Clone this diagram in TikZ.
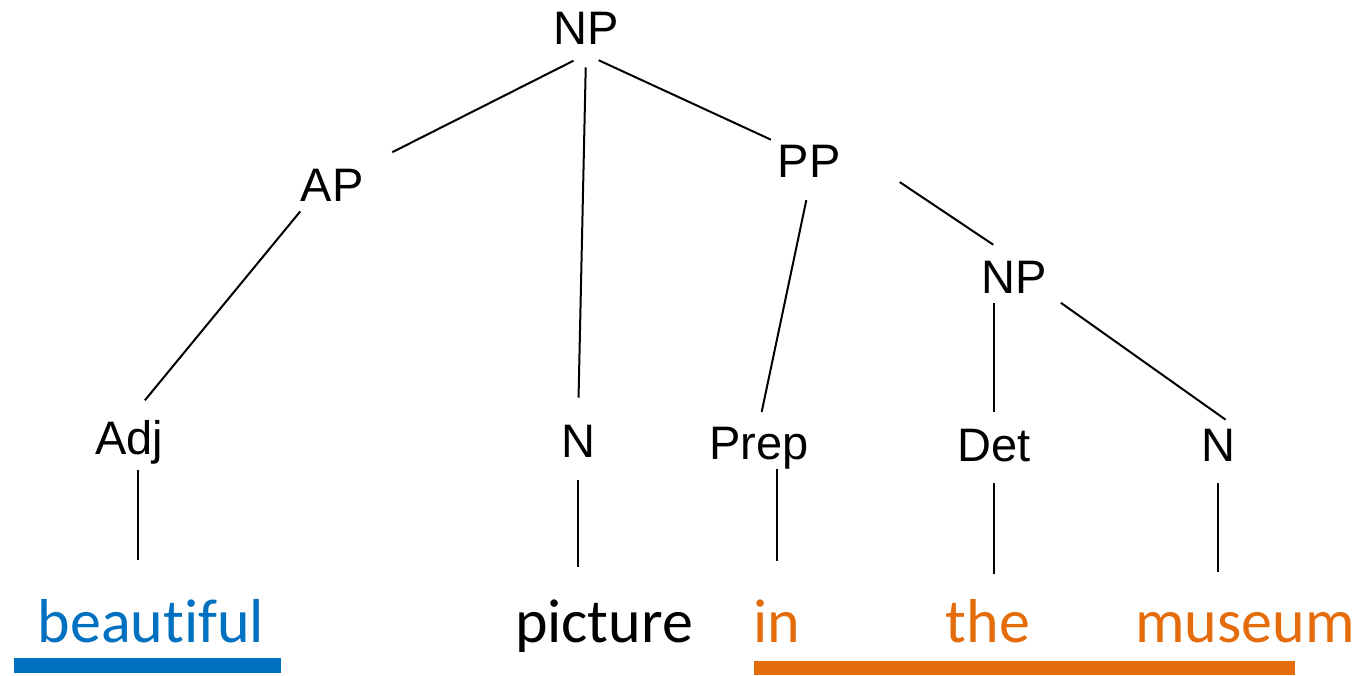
\documentclass[tikz,border=0pt]{standalone}
\usepackage{fontspec}
\usepackage{xcolor}
\usepackage{tikz}
\usetikzlibrary{positioning,calc}
\newfontfamily\treefont{Liberation Sans}
\newfontfamily\wordfont[Ligatures = NoCommon]{Carlito}
\definecolor{wordblue}{RGB}{0,112,192}
\definecolor{wordorange}{RGB}{228,108,10}

\begin{document}
\begin{tikzpicture}[x = 0.5pt, y = -0.5pt,
    tag/.style = {font = \treefont\fontsize{23.5}{28}\selectfont, anchor = base, inner sep = 0pt, text height = 17pt, text depth = 5pt},
    word/.style = {font = \wordfont\fontsize{31}{37}\selectfont, anchor = base, inner sep = 0pt, text height = 21pt, text depth = 0pt},
    branch/.style = {line width = 1pt, shorten < = 6pt, shorten > = 13pt}]
    \useasboundingbox (0,0) rectangle (1364,675);
    \node[tag] (np) at (586,44) {NP};
    \node[tag] (ap) at (332,201) {AP};
    \node[tag] (pp) at (809,177) {PP};
    \node[tag] (np2) at (1014,293) {NP};
    %%%%%%%%%%
    \node[tag] (adj) at (129,454) {Adj};
    \node[tag] (n) at (578,457) {N};
    \node[tag] (prep) at (759,459) {Prep};
    \node[tag] (det) at (994,461) {Det};
    \node[tag] (n2) at (1218,461) {N};
    %%%%%%%%%%
    \node[word, text = wordblue] (beautiful) at (151,642) {beautiful};
    \node[word] (picture) at (604,642) {picture};
    \node[word, text = wordorange] (in) at (777,642) {in};
    \node[word, text = wordorange] (the) at (988,642) {the};
    \node[word, text = wordorange] (museum) at (1245,642) {museum};
    %%%%%%%%%%
    \fill[wordblue] (14,658) rectangle (281,673);
    \fill[wordorange] (754,661) rectangle (1295,675);
    %%%%%%%%%%
    \draw[branch, shorten < = 7pt, shorten > = 16pt] (np.south) -- (ap.north east);
    \draw[branch, shorten < = 6.5pt, shorten > = 12.5pt] (np.south) -- (n.north);
    \draw[branch, shorten < = 7pt, shorten > = 3.5pt] (np.south) -- (pp.north west);
    \draw[branch, shorten < = 0pt, shorten > = 12.5pt] (ap.south west) -- (adj.north);
    \draw[branch, shorten < = 6.5pt, shorten > = 6.5pt] (pp.south) -- (prep.north);
    \draw[branch, shorten < = 35.5pt, shorten > = 12.5pt] (pp.north east) -- (np2.north);
    \draw[branch, shorten < = 0pt, shorten > = 7.5pt] (np2.south -| det.north) -- (det.north);
    \draw[branch, shorten < = 8.5pt, shorten > = 6pt] (np2.base east) -- (n2.north east);
    % leaves down to the words
    \draw[branch, shorten < = 3pt, shorten > = 20pt] ([xshift = 4.5pt]adj.south) -- ([xshift = 4.5pt]adj.south |- beautiful.north);
    \draw[branch, shorten < = 6.5pt, shorten > = 16.5pt] (n.south) -- (n.south |- picture.north);
    \draw[branch, shorten < = 0pt, shorten > = 19.5pt] (prep.south -| in.north) -- (in.north);
    \draw[branch] (det.south) -- (det.south |- the.north);
    \draw[branch, shorten > = 14pt] (n2.south) -- (n2.south |- museum.north);
\end{tikzpicture}
\end{document}
